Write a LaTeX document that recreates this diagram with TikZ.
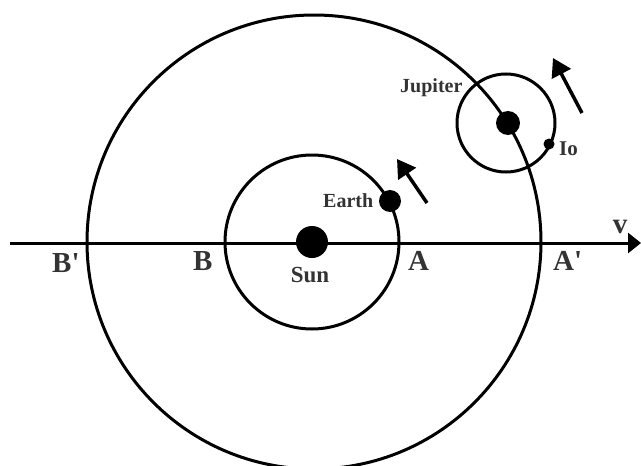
\documentclass[tikz,border=0pt]{standalone}
\usepackage{fontspec}
\setmainfont{Liberation Serif}
\usetikzlibrary{arrows.meta}
\definecolor{txt}{HTML}{333333}
\tikzset{
  orbit/.style={draw=black,line width=3pt},
  body/.style={circle,fill=black,inner sep=0pt},
  lbl/.style={text=txt,inner sep=0pt,font=\bfseries\fontsize{29}{29}\selectfont},
  slbl/.style={text=txt,inner sep=0pt,font=\bfseries\fontsize{20}{20}\selectfont},
  motion/.style={draw=black,line width=3.5pt,-{Triangle[length=18pt,width=21pt]}}
}
\begin{document}
\begin{tikzpicture}[x=1pt,y=-1pt]
\useasboundingbox (0,0) rectangle (641,466);
% orbits
\draw[orbit] (314,242) circle[radius=227];
\draw[orbit] (312,242) circle[radius=87];
\draw[orbit] (506,123) circle[radius=49];
% axis
\coordinate (axL) at (10,243);
\coordinate (axR) at (641,243);
\draw[line width=3pt,-{Triangle[length=13pt,width=20pt]}] (axL) -- (axR);
% bodies
\node[body,minimum size=32pt] (sun) at (312,242) {};
\node[body,minimum size=22pt] (earth) at (390,201) {};
\node[body,minimum size=24pt] (jup) at (508,123) {};
\node[body,minimum size=11pt] (io) at (549,144) {};
% motion arrows
\coordinate (eT) at (427,203);
\coordinate (eH) at (397,159);
\draw[motion] (eT) -- (eH);
\coordinate (jT) at (582,113);
\coordinate (jH) at (553,58);
\draw[motion] (jT) -- (jH);
% labels
\node[lbl,anchor=base west] (lBp) at (52,272) {B\textquotesingle};
\node[lbl,anchor=base west] (lB) at (193,270) {B};
\node[lbl,anchor=base west] (lA) at (408,270) {A};
\node[lbl,anchor=base west] (lAp) at (553,270) {A\textquotesingle};
\node[lbl,anchor=base] (lv) at (620,233) {v};
\node[slbl,font=\bfseries\fontsize{23}{23}\selectfont,anchor=base] (lsun) at (310,282) {Sun};
\node[slbl,font=\bfseries\fontsize{20}{20}\selectfont,anchor=base west] (learth) at (323,207) {Earth};
\node[slbl,anchor=base west] (ljup) at (400,92) {Jupiter};
\node[slbl,font=\bfseries\fontsize{21}{21}\selectfont,anchor=base west] (lio) at (559,155) {Io};
\end{tikzpicture}
\end{document}
